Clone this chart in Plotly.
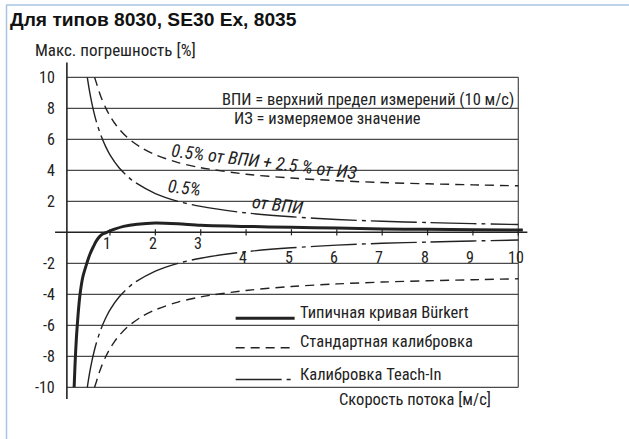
import plotly.graph_objects as go

# ---------------- data ----------------
burkert_x = [0.21, 0.23, 0.26, 0.30, 0.34, 0.40, 0.49, 0.56, 0.63, 0.70, 0.78, 0.86, 0.93,
             1.1, 1.3, 1.6, 2.0, 2.5, 3.0, 4.0, 5.0, 6.0, 7.0, 8.0, 9.0, 10.1]
burkert_y = [-10.0, -8.5, -6.8, -5.2, -4.0, -2.9, -2.0, -1.4, -0.95, -0.55, -0.25, -0.08, 0.0,
             0.2, 0.38, 0.52, 0.6, 0.55, 0.45, 0.38, 0.32, 0.27, 0.22, 0.19, 0.17, 0.15]

std_x = [0.66, 0.70, 0.75, 0.80, 0.90, 1.0, 1.1, 1.2, 1.4, 1.7, 2.0, 2.5, 3.0,
         4.0, 5.0, 6.0, 7.0, 8.0, 9.0, 10.0]
std_upper = [10.0, 9.64, 9.17, 8.75, 8.06, 7.5, 7.05, 6.67, 6.07, 5.44, 5.0, 4.5, 4.17,
             3.75, 3.5, 3.33, 3.21, 3.13, 3.06, 3.0]
std_lower = [-10.0, -9.64, -9.17, -8.75, -8.06, -7.5, -7.05, -6.67, -6.07, -5.44, -5.0, -4.5, -4.17,
             -3.75, -3.5, -3.33, -3.21, -3.13, -3.06, -3.0]

teach_x = [0.50, 0.55, 0.60, 0.65, 0.70, 0.80, 0.90, 1.0, 1.2, 1.5, 2.0, 2.5, 3.0,
           4.0, 5.0, 6.0, 7.0, 8.0, 9.0, 10.0]
teach_upper = [10.0, 9.09, 8.33, 7.69, 7.14, 6.25, 5.56, 5.0, 4.17, 3.33, 2.5, 2.0, 1.67,
               1.25, 1.0, 0.83, 0.71, 0.63, 0.56, 0.5]
teach_lower = [-10.0, -9.09, -8.33, -7.69, -7.14, -6.25, -5.56, -5.0, -4.17, -3.33, -2.5, -2.0, -1.67,
               -1.25, -1.0, -0.83, -0.71, -0.63, -0.56, -0.5]

y_ticks = [10, 8, 6, 4, 2, -2, -4, -6, -8, -10]
y_tick_labels = ["10", "8", "6", "4", "2", "-2", "-4", "-6", "-8", "-10"]
x_ticks = [1, 2, 3, 4, 5, 6, 7, 8, 9, 10]
x_tick_labels = ["1", "2", "3", "4", "5", "6", "7", "8", "9", "10"]

title_text = "Для типов 8030, SE30 Ex, 8035"
y_title = "Макс. погрешность [%]"
x_title = "Скорость потока [м/с]"
legend_names = ["Типичная кривая Bürkert", "Стандартная калибровка", "Калибровка Teach-In"]

# ---------------- styles ----------------
INK = "#222222"
GRID = "#4a4a4a"
NARROW = "Liberation Sans Narrow, Arial Narrow, Roboto Condensed, sans-serif"
STD_DASH = "9px,6px"
TEACH_DASH = "46px,5px,4px,5px"

W, H = 629, 439
ML, MR, MT, MB = 53, 99, 62, 39
PW, PH = W - ML - MR, H - MT - MB


def px(xp):
    return (xp - ML) / PW


def py(yp):
    return 1 - (yp - MT) / PH


fig = go.Figure()


def curve(x, y, width, dash):
    fig.add_trace(go.Scatter(x=x, y=y, mode="lines", showlegend=False, hoverinfo="skip",
                             line=dict(color=INK, width=width, dash=dash, shape="spline", smoothing=0.8)))


curve(teach_x, teach_upper, 1.4, TEACH_DASH)
curve(teach_x, teach_lower, 1.4, TEACH_DASH)
curve(std_x, std_upper, 1.4, STD_DASH)
curve(std_x, std_lower, 1.4, STD_DASH)
curve(burkert_x, burkert_y, 3, "solid")

shapes = []
for yv in y_ticks:
    shapes.append(dict(type="line", xref="x", yref="y", x0=0.05, x1=10, y0=yv, y1=yv,
                       line=dict(color=GRID, width=1.2), layer="below"))
shapes.append(dict(type="line", xref="x", yref="y", x0=10, x1=10, y0=-10, y1=10,
                   line=dict(color=GRID, width=1.2), layer="below"))
shapes.append(dict(type="line", xref="x", yref="y", x0=0.05, x1=0.05, y0=-10.75, y1=10.95,
                   line=dict(color=INK, width=1.6)))
shapes.append(dict(type="line", xref="x", yref="y", x0=-0.21, x1=10.2, y0=0, y1=0,
                   line=dict(color=INK, width=1.6)))
for xv in x_ticks:
    shapes.append(dict(type="line", xref="x", yref="y", x0=xv, x1=xv, y0=-0.2, y1=0.2,
                       line=dict(color=INK, width=1.2)))

# outer light-blue frame (top & left)
shapes.append(dict(type="line", xref="paper", yref="paper", x0=px(6), x1=px(640), y0=py(5), y1=py(5),
                   line=dict(color="#a9c5e3", width=1.5)))
shapes.append(dict(type="line", xref="paper", yref="paper", x0=px(6.5), x1=px(6.5), y0=py(5), y1=py(450),
                   line=dict(color="#a9c5e3", width=1.5)))

annotations = []
for yv, lab in zip(y_ticks, y_tick_labels):
    annotations.append(dict(x=-0.17, y=yv, xref="x", yref="y", text=lab, showarrow=False,
                            xanchor="right", yanchor="middle",
                            font=dict(family=NARROW, size=16, color=INK)))
for xv, lab in zip(x_ticks, x_tick_labels):
    annotations.append(dict(x=xv - 0.06, y=(-0.7 if xv <= 3 else -1.65), xref="x", yref="y",
                            text=lab, showarrow=False, xanchor="center", yanchor="middle",
                            font=dict(family=NARROW, size=16, color=INK)))

annotations.append(dict(x=px(33), y=py(50), xref="paper", yref="paper", text=y_title, showarrow=False,
                        xanchor="left", yanchor="middle", font=dict(family=NARROW, size=17, color=INK)))
annotations.append(dict(x=px(415), y=py(399), xref="paper", yref="paper", text=x_title, showarrow=False,
                        xanchor="center", yanchor="middle", font=dict(family=NARROW, size=16.5, color=INK)))

annotations.append(dict(x=9.95, y=8.6, xref="x", yref="y",
                        text="ВПИ = верхний предел измерений (10 м/с)", showarrow=False,
                        xanchor="right", yanchor="middle", font=dict(family=NARROW, size=16.5, color=INK)))
annotations.append(dict(x=3.7, y=7.35, xref="x", yref="y",
                        text="ИЗ = измеряемое значение", showarrow=False,
                        xanchor="left", yanchor="middle", font=dict(family=NARROW, size=16.5, color=INK)))
annotations.append(dict(x=4.4, y=4.6, xref="x", yref="y",
                        text="<i>0.5% от ВПИ + 2.5 % от ИЗ</i>", showarrow=False, textangle=7,
                        xanchor="center", yanchor="middle", font=dict(family=NARROW, size=18, color=INK)))
annotations.append(dict(x=2.65, y=2.9, xref="x", yref="y",
                        text="<i>0.5%</i>", showarrow=False, textangle=7,
                        xanchor="center", yanchor="middle", font=dict(family=NARROW, size=18, color=INK)))
annotations.append(dict(x=4.7, y=1.8, xref="x", yref="y",
                        text="<i>от ВПИ</i>", showarrow=False, textangle=7,
                        xanchor="center", yanchor="middle", font=dict(family=NARROW, size=18, color=INK)))

legend_line_y = [-5.55, -7.45, -9.5]
legend_text_y = [-5.2, -7.05, -9.15]
legend_styles = [(3, "solid"), (1.4, STD_DASH), (1.4, TEACH_DASH)]
for name, ly, ty, (w, d) in zip(legend_names, legend_line_y, legend_text_y, legend_styles):
    fig.add_trace(go.Scatter(x=[3.77, 5.07], y=[ly, ly], mode="lines", showlegend=False,
                             hoverinfo="skip", line=dict(color=INK, width=w, dash=d)))
    annotations.append(dict(x=5.14, y=ty, xref="x", yref="y", text=name, showarrow=False,
                            xanchor="left", yanchor="middle",
                            font=dict(family=NARROW, size=16.5, color=INK)))

fig.update_layout(
    width=W, height=H,
    margin=dict(l=ML, r=MR, t=MT, b=MB),
    paper_bgcolor="white", plot_bgcolor="white",
    xaxis=dict(range=[-0.256, 10.258], visible=False, fixedrange=True),
    yaxis=dict(range=[-10.819, 10.987], visible=False, fixedrange=True),
    shapes=shapes, annotations=annotations,
    title=dict(text="<b>" + title_text + "</b>", x=10 / W, y=1 - 19 / H, xref="container",
               yref="container", xanchor="left", yanchor="middle",
               font=dict(family="Liberation Sans, Arial, sans-serif", size=19.2, color="#111111")),
    showlegend=False,
)

fig.write_html("out.html", config={"displayModeBar": False, "staticPlot": True},
               post_script="document.body.style.margin='0';document.body.style.overflow='hidden';")
